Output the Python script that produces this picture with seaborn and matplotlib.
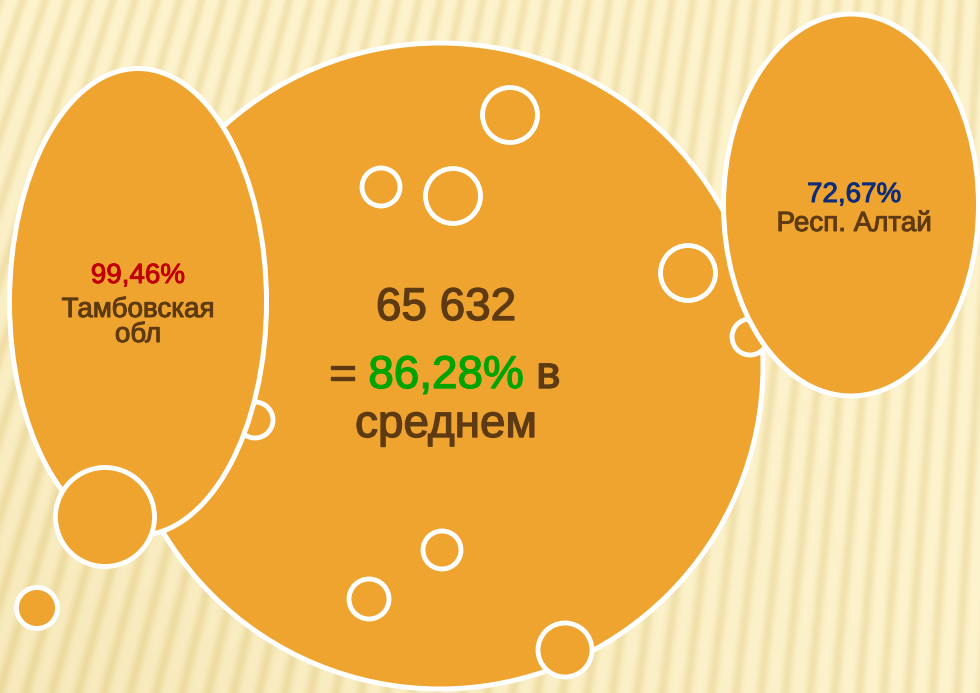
import numpy as np
import matplotlib.pyplot as plt
import matplotlib.patheffects as pe
from matplotlib.patches import Ellipse, Circle
import seaborn as sns

# --- DATA ---
total_users = "65 632"
avg_share = "86,28%"
left_share, left_region = "99,46%", ["Тамбовская", "обл"]
right_share, right_region = "72,67%", ["Респ. Алтай"]

# bubbles (pixel units, y grows downward)
big_center, big_radius = (440, 366), 323
left_center, left_w, left_h = (138, 302), 257, 467
right_center, right_w, right_h = (851, 205), 255, 382

ring_x = [510, 381, 453, 688, 750, 255, 442, 369]
ring_y = [115, 187, 196, 273, 337, 420, 550, 599]
ring_r = [27.5, 19, 27.5, 27.5, 18, 18, 19, 20]

front_x = [105, 37, 565]
front_y = [517, 608, 650]
front_r = [49.5, 20.5, 27]

ORANGE = "#EFA430"
BROWN = "#5E3A12"
RED = "#C00000"
GREEN = "#00A300"
NAVY = "#0E2C78"
W, H, DPI = 980, 693, 100

sns.set_theme(style="white")
plt.rcParams['font.family'] = ['Liberation Sans', 'DejaVu Sans']

fig = plt.figure(figsize=(W / DPI, H / DPI), dpi=DPI)
ax = fig.add_axes([0, 0, 1, 1])
ax.set_xlim(0, W)
ax.set_ylim(H, 0)
ax.axis('off')

# striped fan background
yy, xx = np.mgrid[0:H, 0:W] + 0.5
ang = np.arctan2(xx - 1224, yy + 3500)
wave = (0.5 + 0.5 * np.cos(2 * np.pi * ang / 0.0058)) ** 2
shade = 0.3 * (1 - xx / W) * (yy / H)
mix = np.clip(wave * 0.5 + shade, 0, 1)[..., None]
light = np.array([253, 243, 205]) / 255
dark = np.array([232, 211, 145]) / 255
ax.imshow(light * (1 - mix) + dark * mix, extent=[0, W, H, 0], zorder=0, aspect='auto')

edge = dict(facecolor=ORANGE, edgecolor='white', linewidth=3.6)
ax.add_patch(Circle(big_center, big_radius, zorder=1, **edge))


def rings(xs, ys, rs, z):
    s = (2 * np.array(rs) * 72 / DPI) ** 2
    sns.scatterplot(x=xs, y=ys, s=s, color=ORANGE, edgecolor='white',
                    linewidth=3.5, ax=ax, zorder=z, legend=False)


rings(ring_x, ring_y, ring_r, 2)
ax.add_patch(Ellipse(left_center, left_w, left_h, zorder=3, **edge))
ax.add_patch(Ellipse(right_center, right_w, right_h, zorder=3, **edge))
rings(front_x, front_y, front_r, 4)
ax.set_xlim(0, W)
ax.set_ylim(H, 0)


def bold(c, w):
    return [pe.withStroke(linewidth=w, foreground=c)]


# --- labels ---
small = 20
lab = dict(fontsize=small, ha='center', va='baseline', zorder=5)
ax.text(left_center[0], 283, left_share, color=RED, path_effects=bold(RED, 0.7), **lab)
ax.text(left_center[0], 317, left_region[0], color=BROWN, path_effects=bold(BROWN, 0.7), **lab)
ax.text(left_center[0], 342, left_region[1], color=BROWN, path_effects=bold(BROWN, 0.7), **lab)

ax.text(854, 202, right_share, color=NAVY, path_effects=bold(NAVY, 0.7), **lab)
ax.text(854, 231, right_region[0], color=BROWN, path_effects=bold(BROWN, 0.7), **lab)

big = 33
txt = dict(fontsize=big, ha='center', va='baseline', zorder=5)
ax.text(446, 320, total_users, color=BROWN, path_effects=bold(BROWN, 1.0), **txt)
pct = ax.text(446, 388, avg_share, color=GREEN, path_effects=bold(GREEN, 1.0), **txt)
ax.annotate("=", xy=(0, 0), xycoords=pct, xytext=(-9, 0), textcoords='offset points',
            color=BROWN, fontsize=big, ha='right', va='bottom', zorder=5,
            path_effects=bold(BROWN, 1.0))
ax.annotate("в", xy=(1, 0), xycoords=pct, xytext=(9, 0), textcoords='offset points',
            color=BROWN, fontsize=big, ha='left', va='bottom', zorder=5,
            path_effects=bold(BROWN, 1.0))
ax.text(446, 437, "среднем", color=BROWN, path_effects=bold(BROWN, 1.0), **txt)

plt.savefig("out.png", dpi=DPI)
